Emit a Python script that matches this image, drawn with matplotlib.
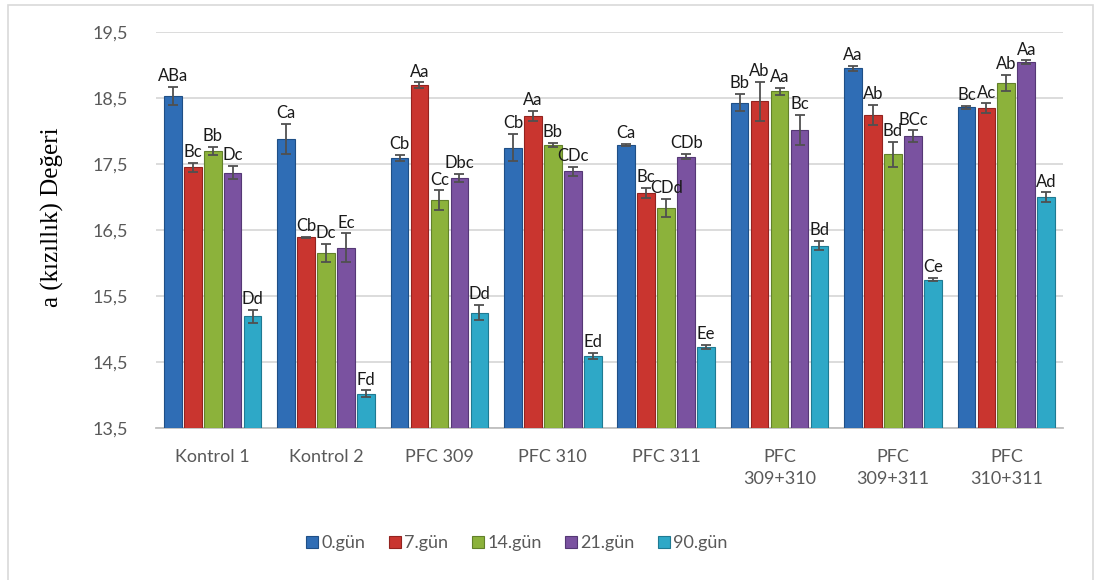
import matplotlib
matplotlib.use("Agg")
import matplotlib.pyplot as plt
from matplotlib.patches import Rectangle
import numpy as np

# Data
categories = ["Kontrol 1", "Kontrol 2", "PFC 309", "PFC 310", "PFC 311",
              "PFC\n309+310", "PFC\n309+311", "PFC\n310+311"]
days = ["0.gün", "7.gün", "14.gün", "21.gün", "90.gün"]

gun0 = [18.53, 17.88, 17.59, 17.75, 17.79, 18.43, 18.95, 18.36]
gun7 = [17.45, 16.39, 18.69, 18.23, 17.06, 18.45, 18.24, 18.35]
gun14 = [17.70, 16.15, 16.95, 17.79, 16.83, 18.60, 17.65, 18.73]
gun21 = [17.37, 16.23, 17.29, 17.39, 17.61, 18.02, 17.92, 19.04]
gun90 = [15.19, 14.02, 15.25, 14.59, 14.73, 16.26, 15.75, 17.00]

err0 = [0.14, 0.23, 0.045, 0.21, 0.01, 0.13, 0.035, 0.025]
err7 = [0.07, 0.01, 0.045, 0.08, 0.076, 0.30, 0.15, 0.07]
err14 = [0.06, 0.14, 0.15, 0.025, 0.14, 0.055, 0.19, 0.12]
err21 = [0.10, 0.22, 0.06, 0.07, 0.04, 0.23, 0.09, 0.03]
err90 = [0.10, 0.05, 0.11, 0.045, 0.03, 0.07, 0.03, 0.07]

lab0 = ["ABa", "Ca", "Cb", "Cb", "Ca", "Bb", "Aa", "Bc"]
lab7 = ["Bc", "Cb", "Aa", "Aa", "Bc", "Ab", "Ab", "Ac"]
lab14 = ["Bb", "Dc", "Cc", "Bb", "CDd", "Aa", "Bd", "Ab"]
lab21 = ["Dc", "Ec", "Dbc", "CDc", "CDb", "Bc", "BCc", "Aa"]
lab90 = ["Dd", "Fd", "Dd", "Ed", "Ee", "Bd", "Ce", "Ad"]

values = [gun0, gun7, gun14, gun21, gun90]
errors = [err0, err7, err14, err21, err90]
labels = [lab0, lab7, lab14, lab21, lab90]

colors = ["#2F6DB5", "#C9352F", "#8CB23B", "#7A52A0", "#2EA8C7"]
edges = ["#1F4F86", "#93231F", "#62802A", "#553875", "#1F7A92"]

FONT = "Lato"
GRAY_TXT = "#595959"

fig = plt.figure(figsize=(10.96, 5.80), dpi=100)

# outer chart border
fig.patches.append(Rectangle((8 / 1096, -0.01), 1085 / 1096, 1 - 5 / 580 + 0.01,
                             transform=fig.transFigure, fill=False,
                             edgecolor="#D9D9D9", linewidth=1.2))

ax = fig.add_axes([156 / 1096, 1 - 428 / 580, 907 / 1096, 396 / 580])

x = np.arange(len(categories))
slot = 0.176
width = 0.156

for i in range(len(days)):
    pos = x + (i - 2) * slot
    ax.bar(pos, np.array(values[i]) - 13.5, width, bottom=13.5,
           color=colors[i], edgecolor=edges[i], linewidth=0.8,
           label=days[i], zorder=3)
    ax.errorbar(pos, values[i], yerr=errors[i], fmt="none",
                ecolor="#505050", elinewidth=1.3, capsize=3.5,
                capthick=1.3, zorder=4)
    for xp, v, e, t in zip(pos, values[i], errors[i], labels[i]):
        ax.annotate(t, (xp, v + e), xytext=(0, 2), textcoords="offset points",
                    ha="center", va="bottom", fontsize=12,
                    family=FONT, color="#1a1a1a", zorder=5,
                    annotation_clip=False)

ax.set_xlim(-0.5, len(categories) - 0.5)
ax.set_ylim(13.5, 19.5)
yt = np.arange(13.5, 19.6, 1.0)
ax.set_yticks(yt)
ax.set_yticklabels([f"{t:.1f}".replace(".", ",") for t in yt],
                   fontsize=13, family=FONT, color=GRAY_TXT)
ax.set_xticks(x)
ax.set_xticklabels(categories, fontsize=13, family=FONT, color=GRAY_TXT,
                   linespacing=1.45)
ax.tick_params(axis="y", length=0, pad=20)
ax.tick_params(axis="x", length=0, pad=15)

ax.grid(axis="y", color="#D9D9D9", linewidth=1.3, zorder=0)
for s in ["top", "right", "left"]:
    ax.spines[s].set_visible(False)
ax.spines["bottom"].set_color("#BFBFBF")
ax.spines["bottom"].set_linewidth(1.3)

fig.text(52 / 1096, 1 - 217 / 580, "a (kızıllık) Değeri", rotation=90,
         ha="center", va="center", fontsize=18, family="Liberation Serif")

leg = fig.legend(loc="center", bbox_to_anchor=(517 / 1096, 1 - 543 / 580),
                 ncol=5, frameon=False, handlelength=0.65, handleheight=0.65,
                 handletextpad=0.2, columnspacing=1.3,
                 prop={"family": FONT, "size": 13})
for t in leg.get_texts():
    t.set_color(GRAY_TXT)

fig.savefig("out.png", dpi=100)
